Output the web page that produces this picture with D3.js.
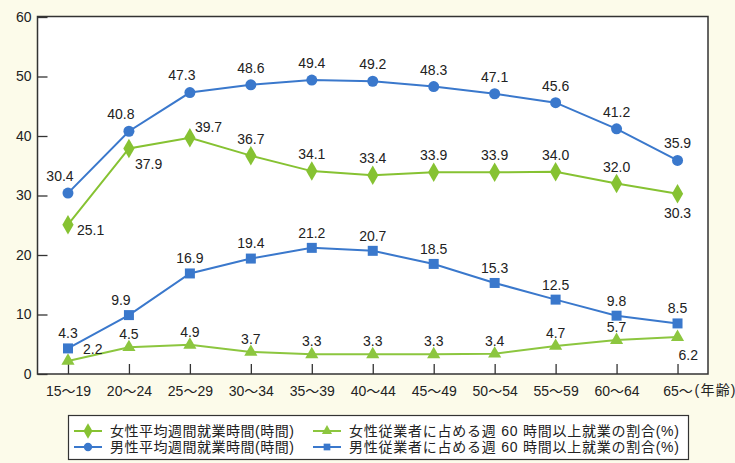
<!DOCTYPE html>
<html>
<head>
<meta charset="utf-8">
<script src="https://cdn.jsdelivr.net/npm/d3@7"></script>
<style>
  html, body { margin: 0; padding: 0; background: #fcfbea; }
  svg { display: block; }
  text { font-family: "Liberation Sans", "Noto Sans CJK JP", sans-serif; fill: #222; }
</style>
</head>
<body>
<svg id="chart" width="735" height="463"></svg>
<script>
const categories = ["15～19","20～24","25～29","30～34","35～39","40～44","45～49","50～54","55～59","60～64","65～"];
const femaleHours = [25.1,37.9,39.7,36.7,34.1,33.4,33.9,33.9,34.0,32.0,30.3];
const maleHours   = [30.4,40.8,47.3,48.6,49.4,49.2,48.3,47.1,45.6,41.2,35.9];
const female60    = [2.2,4.5,4.9,3.7,3.3,3.3,3.3,3.4,4.7,5.7,6.2];
const male60      = [4.3,9.9,16.9,19.4,21.2,20.7,18.5,15.3,12.5,9.8,8.5];
const yTicks = [0,10,20,30,40,50,60];
const legendLabels = [
  "女性平均週間就業時間(時間)",
  "男性平均週間就業時間(時間)",
  "女性従業者に占める週 60 時間以上就業の割合(%)",
  "男性従業者に占める週 60 時間以上就業の割合(%)"
];
// label placement codes per point
const femaleHoursPos = ["r","rb","ra","a","a","a","a","a","a","a","b"];
const maleHoursPos   = ["al","al","al","a","a","a","a","a","a","a","a"];
const female60Pos    = ["ra","a","a","a","a","a","a","a","a","a","bs"];
const male60Pos      = ["a","al","a","a","a","a","a","a","a","a","a"];

const GREEN = "#86c232", GREEN2 = "#8cc63f", BLUE = "#3a78cc";

const svg = d3.select("#chart");
const L = 37.5, R = 708, T = 16.5, B = 374;
const x = d3.scalePoint().domain(categories).range([L, R]).padding(0.5);
const y = d3.scaleLinear().domain([0, 60]).range([B, 17]);

// plot area
svg.append("rect").attr("x", L).attr("y", T).attr("width", R - L).attr("height", B - T)
  .attr("fill", "#fff").attr("stroke", "#333").attr("stroke-width", 1.5);

// y axis
const yAxis = d3.axisLeft(y).tickValues(yTicks).tickSizeInner(-10).tickSizeOuter(0).tickPadding(7);
const gy = svg.append("g").attr("transform", `translate(${L},0)`).call(yAxis);
gy.select(".domain").remove();
gy.selectAll(".tick line").attr("stroke", "#333").attr("stroke-width", 1.3);
gy.selectAll(".tick text").attr("x", -6).style("font-size", "14px").attr("fill", "#222");

// x axis
const xAxis = d3.axisBottom(x).tickSizeInner(-10).tickSizeOuter(0).tickPadding(9);
const gx = svg.append("g").attr("transform", `translate(0,${B})`).call(xAxis);
gx.select(".domain").remove();
gx.selectAll(".tick line").attr("stroke", "#333").attr("stroke-width", 1.3);
gx.selectAll(".tick text").style("font-size", "14px").attr("fill", "#222").attr("dy", "0.9em");
svg.append("text").attr("x", x("65～") + 17).attr("y", B + 21).style("font-size", "14px")
  .attr("textLength", 41).text("(年齢)");

// line series
const line = d3.line().x((d, i) => x(categories[i])).y(d => y(d));

function drawSeries(data, color, shape, size, pos, width) {
  svg.append("path").datum(data).attr("d", line).attr("fill", "none")
    .attr("stroke", color).attr("stroke-width", width);
  svg.append("g").selectAll("path").data(data).join("path")
    .attr("transform", (d, i) => `translate(${x(categories[i])},${y(d)})`)
    .attr("d", d3.symbol().type(shape).size(size))
    .attr("fill", color);
  svg.append("g").selectAll("text").data(data).join("text")
    .attr("x", (d, i) => {
      const p = pos[i], cx = x(categories[i]);
      if (p === "r") return cx + 9;
      if (p === "rb") return cx + 6;
      if (p === "ra") return shape === d3.symbolTriangle ? cx + 15 : cx + 5;
      if (p === "al") return cx - 8;
      if (p === "bs") return cx + 1;
      return cx;
    })
    .attr("y", (d, i) => {
      const p = pos[i], cy = y(d);
      if (p === "r") return cy + 5;
      if (p === "rb") return cy + 15.5;
      if (p === "ra") return shape === d3.symbolTriangle ? cy - 12 : cy - 11;
      if (p === "b") return cy + 19;
      if (p === "bs") return cy + 18;
      return cy - (shape === d3.symbolTriangle ? 13 : shape === d3.symbolSquare ? 15 : 17);
    })
    .attr("dy", "0.35em")
    .attr("text-anchor", (d, i) => ["r","rb","ra","bs"].includes(pos[i]) ? "start" : "middle")
    .style("font-size", "14px")
    .text(d => d.toFixed(1));
}

drawSeries(female60, GREEN2, d3.symbolTriangle, 75, female60Pos, 2);
drawSeries(male60, BLUE, d3.symbolSquare, 100, male60Pos, 2);
drawSeries(femaleHours, GREEN, d3.symbolDiamond, 110, femaleHoursPos, 2);
drawSeries(maleHours, BLUE, d3.symbolCircle, 95, maleHoursPos, 2);

// legend
const lg = svg.append("g");
lg.append("rect").attr("x", 68.5).attr("y", 415.5).attr("width", 620).attr("height", 44)
  .attr("fill", "#fff").attr("stroke", "#333").attr("stroke-width", 1.2);
const legendItems = [
  {label: legendLabels[0], color: GREEN, shape: d3.symbolDiamond, size: 70, lx: 74, ty: 431, w: 184},
  {label: legendLabels[1], color: BLUE, shape: d3.symbolCircle, size: 55, lx: 74, ty: 447, w: 184},
  {label: legendLabels[2], color: GREEN2, shape: d3.symbolTriangle, size: 45, lx: 313, ty: 431, w: 330},
  {label: legendLabels[3], color: BLUE, shape: d3.symbolSquare, size: 45, lx: 313, ty: 447, w: 330}
];
legendItems.forEach(it => {
  lg.append("line").attr("x1", it.lx).attr("x2", it.lx + 28).attr("y1", it.ty).attr("y2", it.ty)
    .attr("stroke", it.color).attr("stroke-width", 2);
  lg.append("path").attr("transform", `translate(${it.lx + 14},${it.ty})`)
    .attr("d", d3.symbol().type(it.shape).size(it.size)).attr("fill", it.color);
  lg.append("text").attr("x", it.lx + 36).attr("y", it.ty).attr("dy", "0.36em")
    .style("font-size", "14px").attr("textLength", it.w).text(it.label);
});
</script>
</body>
</html>
